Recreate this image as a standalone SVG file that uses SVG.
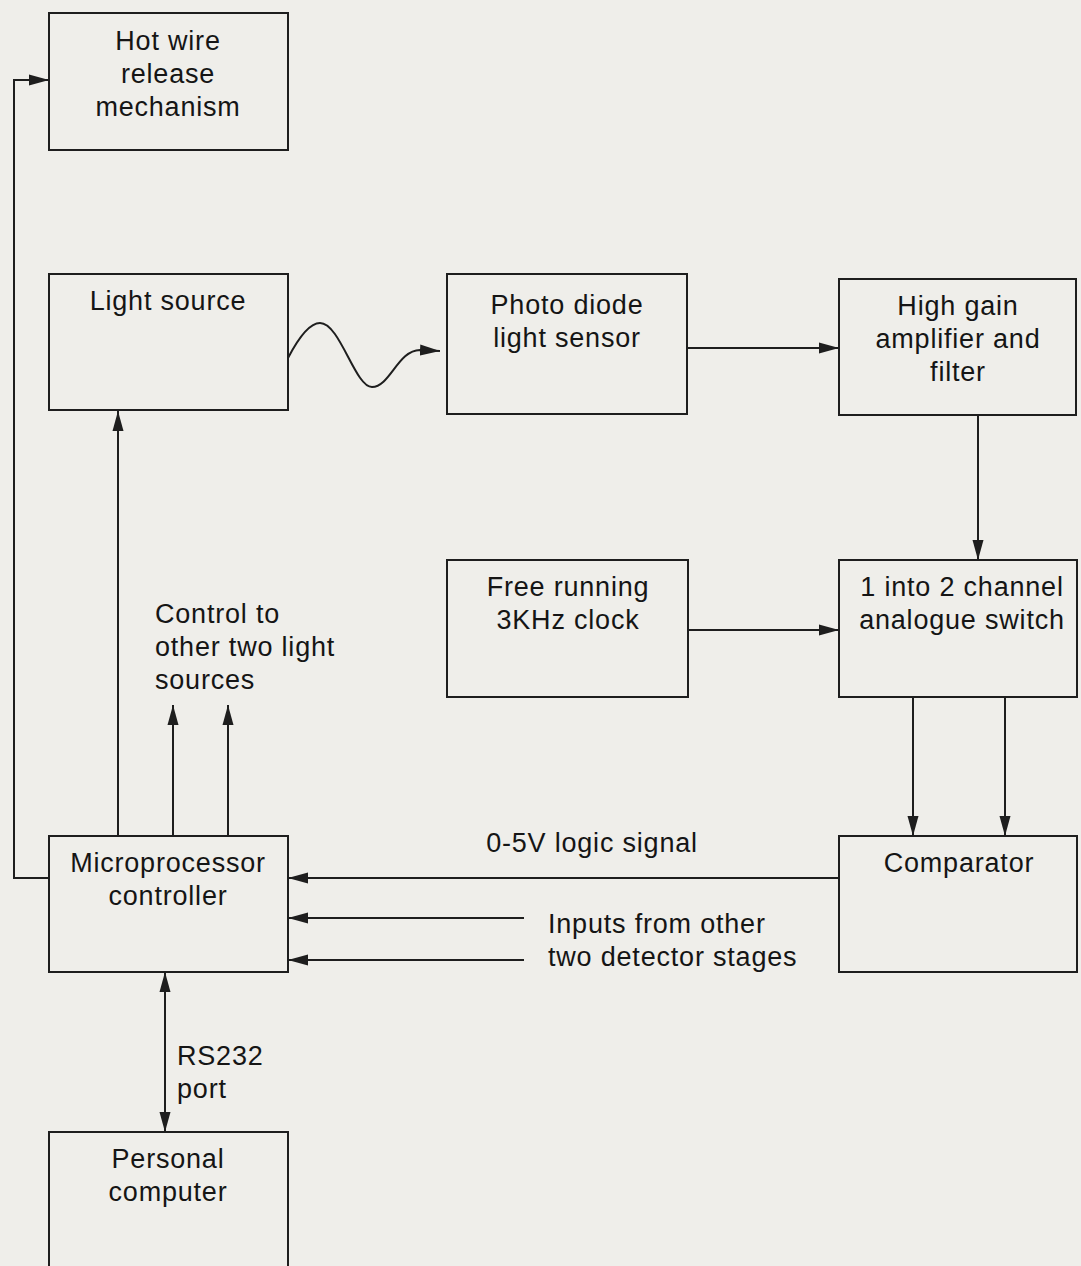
<svg xmlns="http://www.w3.org/2000/svg" width="1081" height="1266" viewBox="0 0 1081 1266">
<defs>
<style>
.box{fill:none;stroke:#1e1e1e;stroke-width:2}
.ln{fill:none;stroke:#1e1e1e;stroke-width:2}
text{font-family:"Liberation Sans",Arial,sans-serif;font-size:27px;fill:#151515;letter-spacing:0.8px}
.c{text-anchor:middle}
</style>
<marker id="ah" markerUnits="userSpaceOnUse" markerWidth="22" markerHeight="14" refX="20" refY="6" orient="auto">
<path d="M0,0.5 L20,6 L0,11.5 Z" fill="#1e1e1e"/>
</marker>
<marker id="as" markerUnits="userSpaceOnUse" markerWidth="22" markerHeight="14" refX="0" refY="6" orient="auto">
<path d="M20,0.5 L0,6 L20,11.5 Z" fill="#1e1e1e"/>
</marker>
</defs>
<rect width="1081" height="1266" fill="#efeeea"/>
<g id="hotwire"><rect class="box" x="49" y="13" width="239" height="137"/>
<text class="c" x="168" y="50">Hot wire</text><text class="c" x="168" y="83">release</text><text class="c" x="168" y="116">mechanism</text></g>
<g id="lightsource"><rect class="box" x="49" y="274" width="239" height="136"/>
<text class="c" x="168" y="310">Light source</text></g>
<g id="photodiode"><rect class="box" x="447" y="274" width="240" height="140"/>
<text class="c" x="567" y="314">Photo diode</text><text class="c" x="567" y="347">light sensor</text></g>
<g id="amplifier"><rect class="box" x="839" y="279" width="237" height="136"/>
<text class="c" x="958" y="315">High gain</text><text class="c" x="958" y="348">amplifier and</text><text class="c" x="958" y="381">filter</text></g>
<g id="clock"><rect class="box" x="447" y="560" width="241" height="137"/>
<text class="c" x="568" y="596">Free running</text><text class="c" x="568" y="629">3KHz clock</text></g>
<g id="switch"><rect class="box" x="839" y="560" width="238" height="137"/>
<text class="c" x="962" y="596">1 into 2 channel</text><text class="c" x="962" y="629">analogue switch</text></g>
<g id="micro"><rect class="box" x="49" y="836" width="239" height="136"/>
<text class="c" x="168" y="872">Microprocessor</text><text class="c" x="168" y="905">controller</text></g>
<g id="comparator"><rect class="box" x="839" y="836" width="238" height="136"/>
<text class="c" x="959" y="872">Comparator</text></g>
<g id="pc"><rect class="box" x="49" y="1132" width="239" height="140"/>
<text class="c" x="168" y="1168">Personal</text><text class="c" x="168" y="1201">computer</text></g>
<g id="labels">
<text x="155" y="623">Control to</text><text x="155" y="656">other two light</text><text x="155" y="689">sources</text>
<text class="c" x="592" y="852">0-5V logic signal</text>
<text x="548" y="933">Inputs from other</text><text x="548" y="966">two detector stages</text>
<text x="177" y="1065">RS232</text><text x="177" y="1098">port</text>
</g>
<g id="connectors">
<path class="ln" d="M49,878 H14 V80 H49" marker-end="url(#ah)"/>
<path class="ln" d="M118,836 V411" marker-end="url(#ah)"/>
<path class="ln" d="M173,836 V705" marker-end="url(#ah)"/>
<path class="ln" d="M228,836 V705" marker-end="url(#ah)"/>
<path class="ln" d="M288,358 C300,335 310,323 320,323 C340,323 355,387 372,387 C390,387 398,350 420,350 L440,351" marker-end="url(#ah)"/>
<path class="ln" d="M687,348 H839" marker-end="url(#ah)"/>
<path class="ln" d="M978,415 V560" marker-end="url(#ah)"/>
<path class="ln" d="M688,630 H839" marker-end="url(#ah)"/>
<path class="ln" d="M913,697 V836" marker-end="url(#ah)"/>
<path class="ln" d="M1005,697 V836" marker-end="url(#ah)"/>
<path class="ln" d="M839,878 H288" marker-end="url(#ah)"/>
<path class="ln" d="M524,918 H288" marker-end="url(#ah)"/>
<path class="ln" d="M524,960 H288" marker-end="url(#ah)"/>
<path class="ln" d="M165,972 V1132" marker-start="url(#as)" marker-end="url(#ah)"/>
</g>
</svg>
